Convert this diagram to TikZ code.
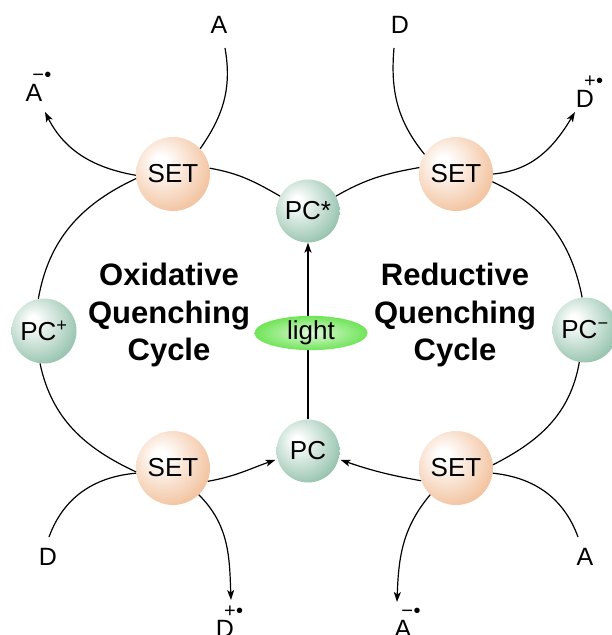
\documentclass[tikz,border=0pt]{standalone}
\usepackage{fontspec}
\setmainfont{Liberation Sans}
\usetikzlibrary{arrows.meta,shapes.geometric}

\definecolor{setorange}{RGB}{236,164,110}
\definecolor{pcgreen}{RGB}{84,158,124}
\definecolor{lightgreen}{RGB}{112,228,88}
\pgfdeclareradialshading{setball}{\pgfpoint{-9bp}{9bp}}{color(0bp)=(white); color(4bp)=(white); color(30bp)=(setorange!62); color(48bp)=(setorange); color(75bp)=(setorange)}
\pgfdeclareradialshading{pcball}{\pgfpoint{-9bp}{9bp}}{color(0bp)=(white); color(3bp)=(white); color(26bp)=(pcgreen!48); color(48bp)=(pcgreen); color(75bp)=(pcgreen)}
\newcommand{\radic}[2]{#1\rlap{\kern-10pt\raisebox{20pt}{\fontsize{20}{20}\selectfont #2\kern0.5pt\textbullet}}}

\begin{document}
\begin{tikzpicture}[x=1pt,y=1pt,
	ball/.style={circle,inner sep=0pt,minimum size=63pt,font=\fontsize{26}{26}\selectfont},
	setnode/.style={ball,minimum size=74pt,shading=setball},
	pcnode/.style={ball,shading=pcball},
	lightnode/.style={ellipse,inner sep=0pt,minimum width=113pt,minimum height=30pt,
		inner color=lightgreen!22,outer color=lightgreen,font=\fontsize{26}{26}\selectfont},
	lbl/.style={inner sep=0pt,anchor=base,font=\fontsize{25}{25}\selectfont},
	cyc/.style={align=center,font=\fontsize{31}{37.5}\selectfont\bfseries},
	ln/.style={line width=1.2pt},
	arr/.style={ln,-{Stealth[length=10pt,width=7pt,inset=2.5pt]}}]
	\useasboundingbox (0,0) rectangle (611,-635);

	\node[setnode] (setTL) at (173,-174) {SET};
	\node[setnode] (setTR) at (456,-174) {SET};
	\node[setnode] (setBL) at (173,-468) {SET};
	\node[setnode] (setBR) at (456,-468) {SET};
	\node[pcnode] (pcStar) at (308,-211) {PC*};
	\node[pcnode] (pc) at (308,-451) {PC};
	\node[pcnode,minimum size=65pt] (pcPlus) at (44,-331) {PC\textsuperscript{+}};
	\node[pcnode,minimum size=65pt] (pcMinus) at (585,-330) {PC\textsuperscript{−}};

	\node[lbl] (aTop) at (219,-33) {A};
	\node[lbl] (dTop) at (400,-33) {D};
	\node[lbl] (aRadTL) at (34,-101) {\radic{A}{−}};
	\node[lbl] (dRadTR) at (585,-107) {\radic{D}{+}};
	\node[lbl] (dBL) at (48,-565) {D};
	\node[lbl] (dRadB) at (225,-637) {\radic{D}{+}};
	\node[lbl] (aRadB) at (403,-637) {\radic{A}{−}};
	\node[lbl] (aBR) at (585,-565) {A};

	\node[cyc] (oxi) at (169,-315) {Oxidative\\Quenching\\Cycle};
	\node[cyc] (red) at (455,-315) {Reductive\\Quenching\\Cycle};

	\draw[ln] (setTL.9) to[out=-10,in=150] (pcStar.152);
	\draw[ln] (setTL.187) to[out=205,in=80] (pcPlus.100);
	\draw[ln] (pcPlus.263) to[out=-78,in=155] (setBL.186);
	\draw[arr,shorten >=2pt] (setBL.-21) to[out=10,in=199] (pc.195);
	\draw[ln] ([shift={(1,28)}]dBL.base) to[out=70,in=185] (setBL.188);
	\draw[arr] (setBL.-46) to[out=-45,in=92] ([shift={(6,37)}]dRadB.base);
	\draw[ln] ([shift={(6,-15)}]aTop.base) to[out=-80,in=55] (setTL.43);
	\draw[arr] (setTL.182) to[out=170,in=-63] ([shift={(11,-11)}]aRadTL.base);

	\draw[ln] (setTR.170) to[out=190,in=30] (pcStar.28);
	\draw[ln] (setTR.-12) to[out=-25,in=101] (pcMinus.95);
	\draw[ln] (pcMinus.260) to[out=-100,in=27] (setBR.5);
	\draw[arr,shorten >=2pt] (setBR.200) to[out=170,in=-19] (pc.-15);
	\draw[ln] ([shift={(-7,28)}]aBR.base) to[out=110,in=-6] (setBR.-8);
	\draw[arr] (setBR.226) to[out=-130,in=88] ([shift={(-6,35)}]aRadB.base);
	\draw[ln] ([shift={(-6,-15)}]dTop.base) to[out=-95,in=129] (setTR.148);
	\draw[arr] (setTR.0) to[out=5,in=239] ([shift={(-10,-5)}]dRadTR.base);

	\draw[arr] (pc) -- (pcStar);
	\node[lightnode] (light) at (311,-333) {light};
\end{tikzpicture}
\end{document}
